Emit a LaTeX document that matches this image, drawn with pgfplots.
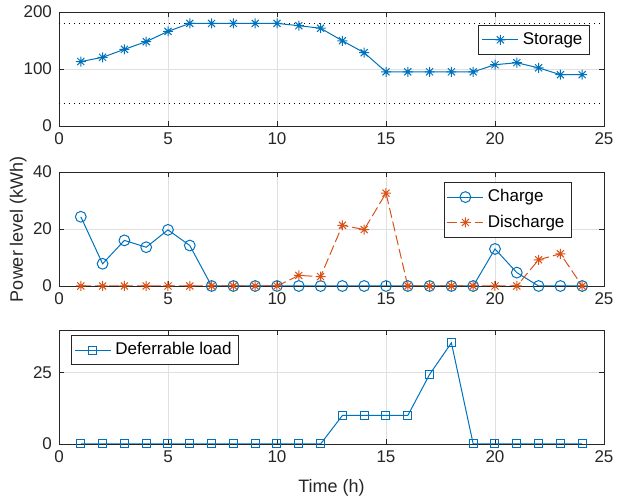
\documentclass[border=0pt]{standalone}
\usepackage{fontspec}
\setmainfont{Liberation Sans}
\usepackage{pgfplots}
\pgfplotsset{compat=1.18}
\definecolor{mblue}{RGB}{0,114,189}
\definecolor{mred}{RGB}{217,83,25}
\definecolor{axgray}{RGB}{38,38,38}
\pgfdeclareplotmark{mstar}{%
 \pgfpathmoveto{\pgfqpoint{-\pgfplotmarksize}{0pt}}\pgfpathlineto{\pgfqpoint{\pgfplotmarksize}{0pt}}%
 \pgfpathmoveto{\pgfqpoint{0pt}{-\pgfplotmarksize}}\pgfpathlineto{\pgfqpoint{0pt}{\pgfplotmarksize}}%
 \pgfpathmoveto{\pgfqpoint{-.7071\pgfplotmarksize}{-.7071\pgfplotmarksize}}\pgfpathlineto{\pgfqpoint{.7071\pgfplotmarksize}{.7071\pgfplotmarksize}}%
 \pgfpathmoveto{\pgfqpoint{-.7071\pgfplotmarksize}{.7071\pgfplotmarksize}}\pgfpathlineto{\pgfqpoint{.7071\pgfplotmarksize}{-.7071\pgfplotmarksize}}%
 \pgfusepathqstroke}
\pgfplotsset{
 every axis/.append style={
  scale only axis, width=272.5pt, height=57pt,
  xmin=0, xmax=25, xtick={0,5,...,25},
  axis line style={axgray, line width=0.4pt},
  tick style={axgray, line width=0.4pt},
  tick align=inside, major tick length=2.5pt,
  grid=major, major grid style={black!12, line width=0.4pt},
  font=\fontsize{8.5}{10}\selectfont,
  tick label style={axgray, font=\fontsize{8.5}{10}\selectfont},
  /pgf/number format/assume math mode=true,
  legend style={draw=axgray, line width=0.4pt, font=\fontsize{8.5}{10}\selectfont, inner sep=1.5pt, row sep=1pt},
  legend cell align=left,
  legend image code/.code={\draw[#1] (0pt,0pt) -- (18pt,0pt); \draw[#1, mark repeat=2, mark phase=2] plot coordinates {(0pt,0pt) (9pt,0pt) (18pt,0pt)};},
 }
}
\begin{document}
\begin{tikzpicture}
\path[use as bounding box] (-29.5pt,6pt) rectangle (279pt,-244.5pt);
\begin{axis}[at={(0pt,0pt)}, anchor=north west,
  ymin=0, ymax=200, ytick={0,100,200},
  legend style={at={(0.974,0.886)}, anchor=north east}]
\addplot[black, dotted, forget plot, line width=0.5pt] coordinates {(0,180) (25,180)};
\addplot[black, dotted, forget plot, line width=0.5pt] coordinates {(0,40) (25,40)};
\addplot[mblue, line width=0.5pt, mark=mstar, mark size=2.5pt] coordinates {
(1,113)(2,120.5)(3,134.5)(4,148)(5,166)(6,180)(7,180)(8,180)(9,180)(10,180)(11,176)(12,171.5)(13,149.5)(14,128.5)(15,95)(16,95)(17,95)(18,95)(19,95)(20,107.5)(21,111)(22,102)(23,90)(24,90)};
\addlegendentry{Storage}
\end{axis}
\begin{axis}[at={(0pt,-80pt)}, anchor=north west,
  ymin=0, ymax=40, ytick={0,20,40},
  ylabel={Power level (kWh)},
  ylabel style={at={(axis description cs:-0.075,0.5)}, anchor=center, rotate=0, axgray, font=\fontsize{9}{10}\selectfont},
  legend style={at={(0.941,0.912)}, anchor=north east}]
\addplot[mblue, line width=0.5pt, mark=o, mark size=2.7pt] coordinates {
(1,24.3)(2,7.8)(3,16)(4,13.6)(5,19.7)(6,14.2)(7,0)(8,0)(9,0)(10,0)(11,0)(12,0)(13,0)(14,0)(15,0)(16,0)(17,0)(18,0)(19,0)(20,13)(21,4.7)(22,0)(23,0)(24,0)};
\addlegendentry{Charge}
\addplot[mred, line width=0.5pt, dash pattern=on 5pt off 2pt, mark=mstar, mark size=2.5pt, mark options={solid}] coordinates {
(1,0)(2,0)(3,0)(4,0)(5,0)(6,0)(7,0)(8,0)(9,0)(10,0)(11,3.7)(12,3.3)(13,21.3)(14,19.8)(15,32.6)(16,0)(17,0)(18,0)(19,0)(20,0)(21,0)(22,9.2)(23,11.3)(24,0)};
\addlegendentry{Discharge}
\end{axis}
\begin{axis}[at={(0pt,-159pt)}, anchor=north west,
  ymin=0, ymax=40, ytick={0,25},
  xlabel={Time (h)},
  xlabel style={at={(axis description cs:0.5,0)}, anchor=center, yshift=-22pt, axgray, font=\fontsize{9}{10}\selectfont},
  legend style={at={(0.022,0.956)}, anchor=north west}]
\addplot[mblue, line width=0.5pt, mark=square, mark size=2pt] coordinates {
(1,0)(2,0)(3,0)(4,0)(5,0)(6,0)(7,0)(8,0)(9,0)(10,0)(11,0)(12,0)(13,10)(14,10)(15,10)(16,10)(17,24.4)(18,35.5)(19,0)(20,0)(21,0)(22,0)(23,0)(24,0)};
\addlegendentry{Deferrable load}
\end{axis}
\end{tikzpicture}
\end{document}
